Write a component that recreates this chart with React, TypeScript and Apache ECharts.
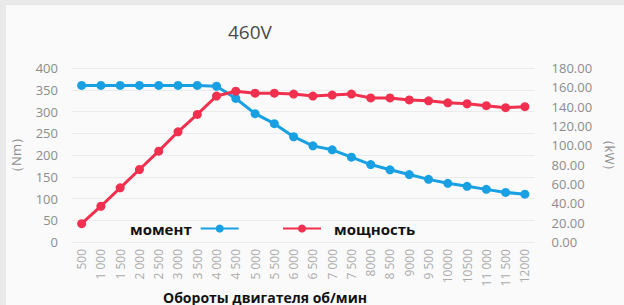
import React, { useEffect, useRef } from "react";
import * as echarts from "echarts";

const categories = [
  "500", "1 000", "1 500", "2 000", "2 500", "3 000", "3 500", "4 000",
  "4 500", "5 000", "5 500", "6 000", "6 500", "7 000", "7 500", "8000",
  "8 500", "9000", "9 500", "10000", "10500", "11 000", "11 500", "12000",
];
const torqueNm = [
  360, 360, 360, 360, 360, 360, 360, 358, 330, 295, 272, 242, 221, 212, 195,
  178, 166, 155, 144, 135, 128, 121, 114, 110,
];
const powerKw = [
  19, 37, 56, 75, 94, 114, 132, 151, 156, 154, 154, 153, 151, 152, 153, 149,
  149, 147, 146, 144, 143, 141, 139, 140,
];
const titleText = "460V";
const xName = "Обороты двигателя об/мин";
const leftName = "（Nm）";
const rightName = "（kW）";
const torqueName = "момент";
const powerName = "мощность";

const BLUE = "#18a0e2";
const RED = "#f0304e";

export default function App() {
  const ref = useRef<HTMLDivElement>(null);
  useEffect(() => {
    if (!ref.current) return;
    const chart = echarts.init(ref.current, undefined, { renderer: "svg" });
    const font = '"Open Sans", "Noto Sans", sans-serif';
    chart.setOption({
      animation: false,
      textStyle: { fontFamily: font },
      title: {
        text: titleText,
        left: 223,
        top: 17,
        textStyle: { fontSize: 19, fontWeight: "normal", color: "#4a4a4a", fontFamily: font },
      },
      legend: [
        {
          data: [torqueName],
          left: 130,
          top: 221,
          padding: 0,
          align: "right",
          itemWidth: 38,
          itemHeight: 10,
          textStyle: { fontSize: 15, fontWeight: "bold", color: "#111", fontFamily: font, padding: [0, 4, 0, 0] },
        },
        {
          data: [powerName],
          left: 282,
          top: 221,
          padding: 0,
          align: "left",
          itemWidth: 38,
          itemHeight: 10,
          textStyle: { fontSize: 15, fontWeight: "bold", color: "#111", fontFamily: font, padding: [0, 0, 0, 8] },
        },
      ],
      grid: { left: 72, right: 85, top: 68, bottom: 63 },
      xAxis: {
        type: "category",
        data: categories,
        boundaryGap: true,
        axisLine: { show: false },
        axisTick: { show: false },
        axisLabel: { rotate: 90, fontSize: 12, color: "#ababab", margin: 7, interval: 0 },
      },
      yAxis: [
        {
          type: "value",
          min: 0,
          max: 400,
          interval: 50,
          axisLine: { show: false },
          axisTick: { show: false },
          axisLabel: { fontSize: 13, color: "#8c8c8c", margin: 14 },
          splitLine: { lineStyle: { color: "#ebebeb", width: 1 } },
          name: leftName,
          nameLocation: "middle",
          nameRotate: 90,
          nameGap: 50,
          nameTextStyle: { fontSize: 13, color: "#8c8c8c" },
        },
        {
          type: "value",
          min: 0,
          max: 180,
          interval: 20,
          position: "right",
          axisLine: { show: false },
          axisTick: { show: false },
          splitLine: { show: false },
          axisLabel: {
            fontSize: 13,
            color: "#8c8c8c",
            margin: 17,
            formatter: (v: number) => v.toFixed(2),
          },
          name: rightName,
          nameLocation: "middle",
          nameRotate: -90,
          nameGap: 62,
          nameTextStyle: { fontSize: 13, color: "#8c8c8c" },
        },
      ],
      graphic: [
        {
          type: "text",
          x: 265,
          y: 297,
          style: {
            text: xName,
            textAlign: "center",
            textVerticalAlign: "middle",
            font: `bold 14px ${font}`,
            fill: "#111",
          },
        },
      ],
      series: [
        {
          name: torqueName,
          type: "line",
          yAxisIndex: 0,
          data: torqueNm,
          symbol: "circle",
          symbolSize: 9,
          color: BLUE,
          lineStyle: { width: 3, color: BLUE },
          itemStyle: { color: BLUE },
        },
        {
          name: powerName,
          type: "line",
          yAxisIndex: 1,
          data: powerKw,
          symbol: "circle",
          symbolSize: 9,
          color: RED,
          lineStyle: { width: 3, color: RED },
          itemStyle: { color: RED },
        },
      ],
    });
    return () => chart.dispose();
  }, []);
  return (
    <div
      style={{
        position: "fixed",
        left: 0,
        top: 0,
        width: 624,
        height: 305,
        background: "#e9e9e9",
        overflow: "hidden",
      }}
    >
      <div
        style={{
          position: "absolute",
          left: 6,
          top: 5,
          width: 618,
          height: 300,
          background: "#fafafa",
        }}
      />
      <div ref={ref} style={{ position: "absolute", left: 0, top: 0, width: 624, height: 305 }} />
    </div>
  );
}
